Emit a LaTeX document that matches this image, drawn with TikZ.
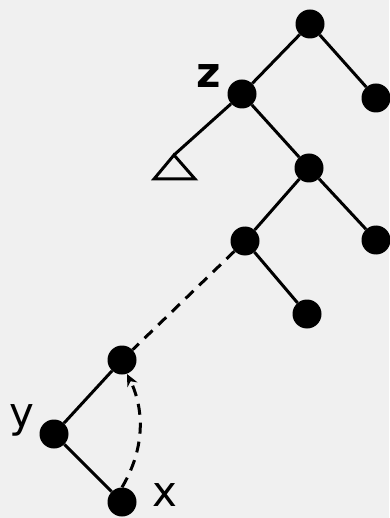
\documentclass[tikz,border=0pt]{standalone}
\usepackage{fontspec}
\setmainfont{DejaVu Sans}
\usetikzlibrary{arrows.meta}
\begin{document}
\begin{tikzpicture}[x=1pt,y=-1pt,
  dot/.style={circle,fill=black,inner sep=0pt,minimum size=29pt},
  edge/.style={line width=3pt},
  dedge/.style={line width=3pt,dash pattern=on 11pt off 8pt},
  lbl/.style={font=\fontsize{42}{42}\selectfont,inner sep=0pt}]
\fill[black!6] (0,0) rectangle (389,518);
\useasboundingbox (0,0) rectangle (389,518);
\node[dot] (r) at (310,24) {};
\node[dot] (rr) at (376,98) {};
\node[dot] (z) at (242,94) {};
\coordinate (tri) at (174,155);
\node[dot] (a) at (309,168) {};
\node[dot] (ar) at (376,240) {};
\node[dot] (b) at (245,241) {};
\node[dot] (br) at (307,314) {};
\node[dot] (c) at (122,360) {};
\node[dot] (y) at (54,434) {};
\node[dot] (x) at (122,502) {};
\node[lbl,font=\fontsize{42}{42}\selectfont\bfseries] (zl) at (209,76) {z};
\node[lbl] (yl) at (22,420) {y};
\node[lbl] (xl) at (165,495) {x};
\draw[edge] (r) -- (rr);
\draw[edge] (r) -- (z);
\draw[edge] (z) -- (tri);
\draw[edge,line join=miter] (tri) -- (154,179) -- (195,179) -- cycle;
\draw[edge] (z) -- (a);
\draw[edge] (a) -- (ar);
\draw[edge] (a) -- (b);
\draw[edge] (b) -- (br);
\draw[dedge] (b) -- (c);
\draw[edge] (c) -- (y);
\draw[edge] (y) -- (x);
\draw[dedge,-{Stealth[length=12pt,width=11pt]}] (x.north) .. controls (150,440) and (140,400) .. (127,374);
\end{tikzpicture}
\end{document}
